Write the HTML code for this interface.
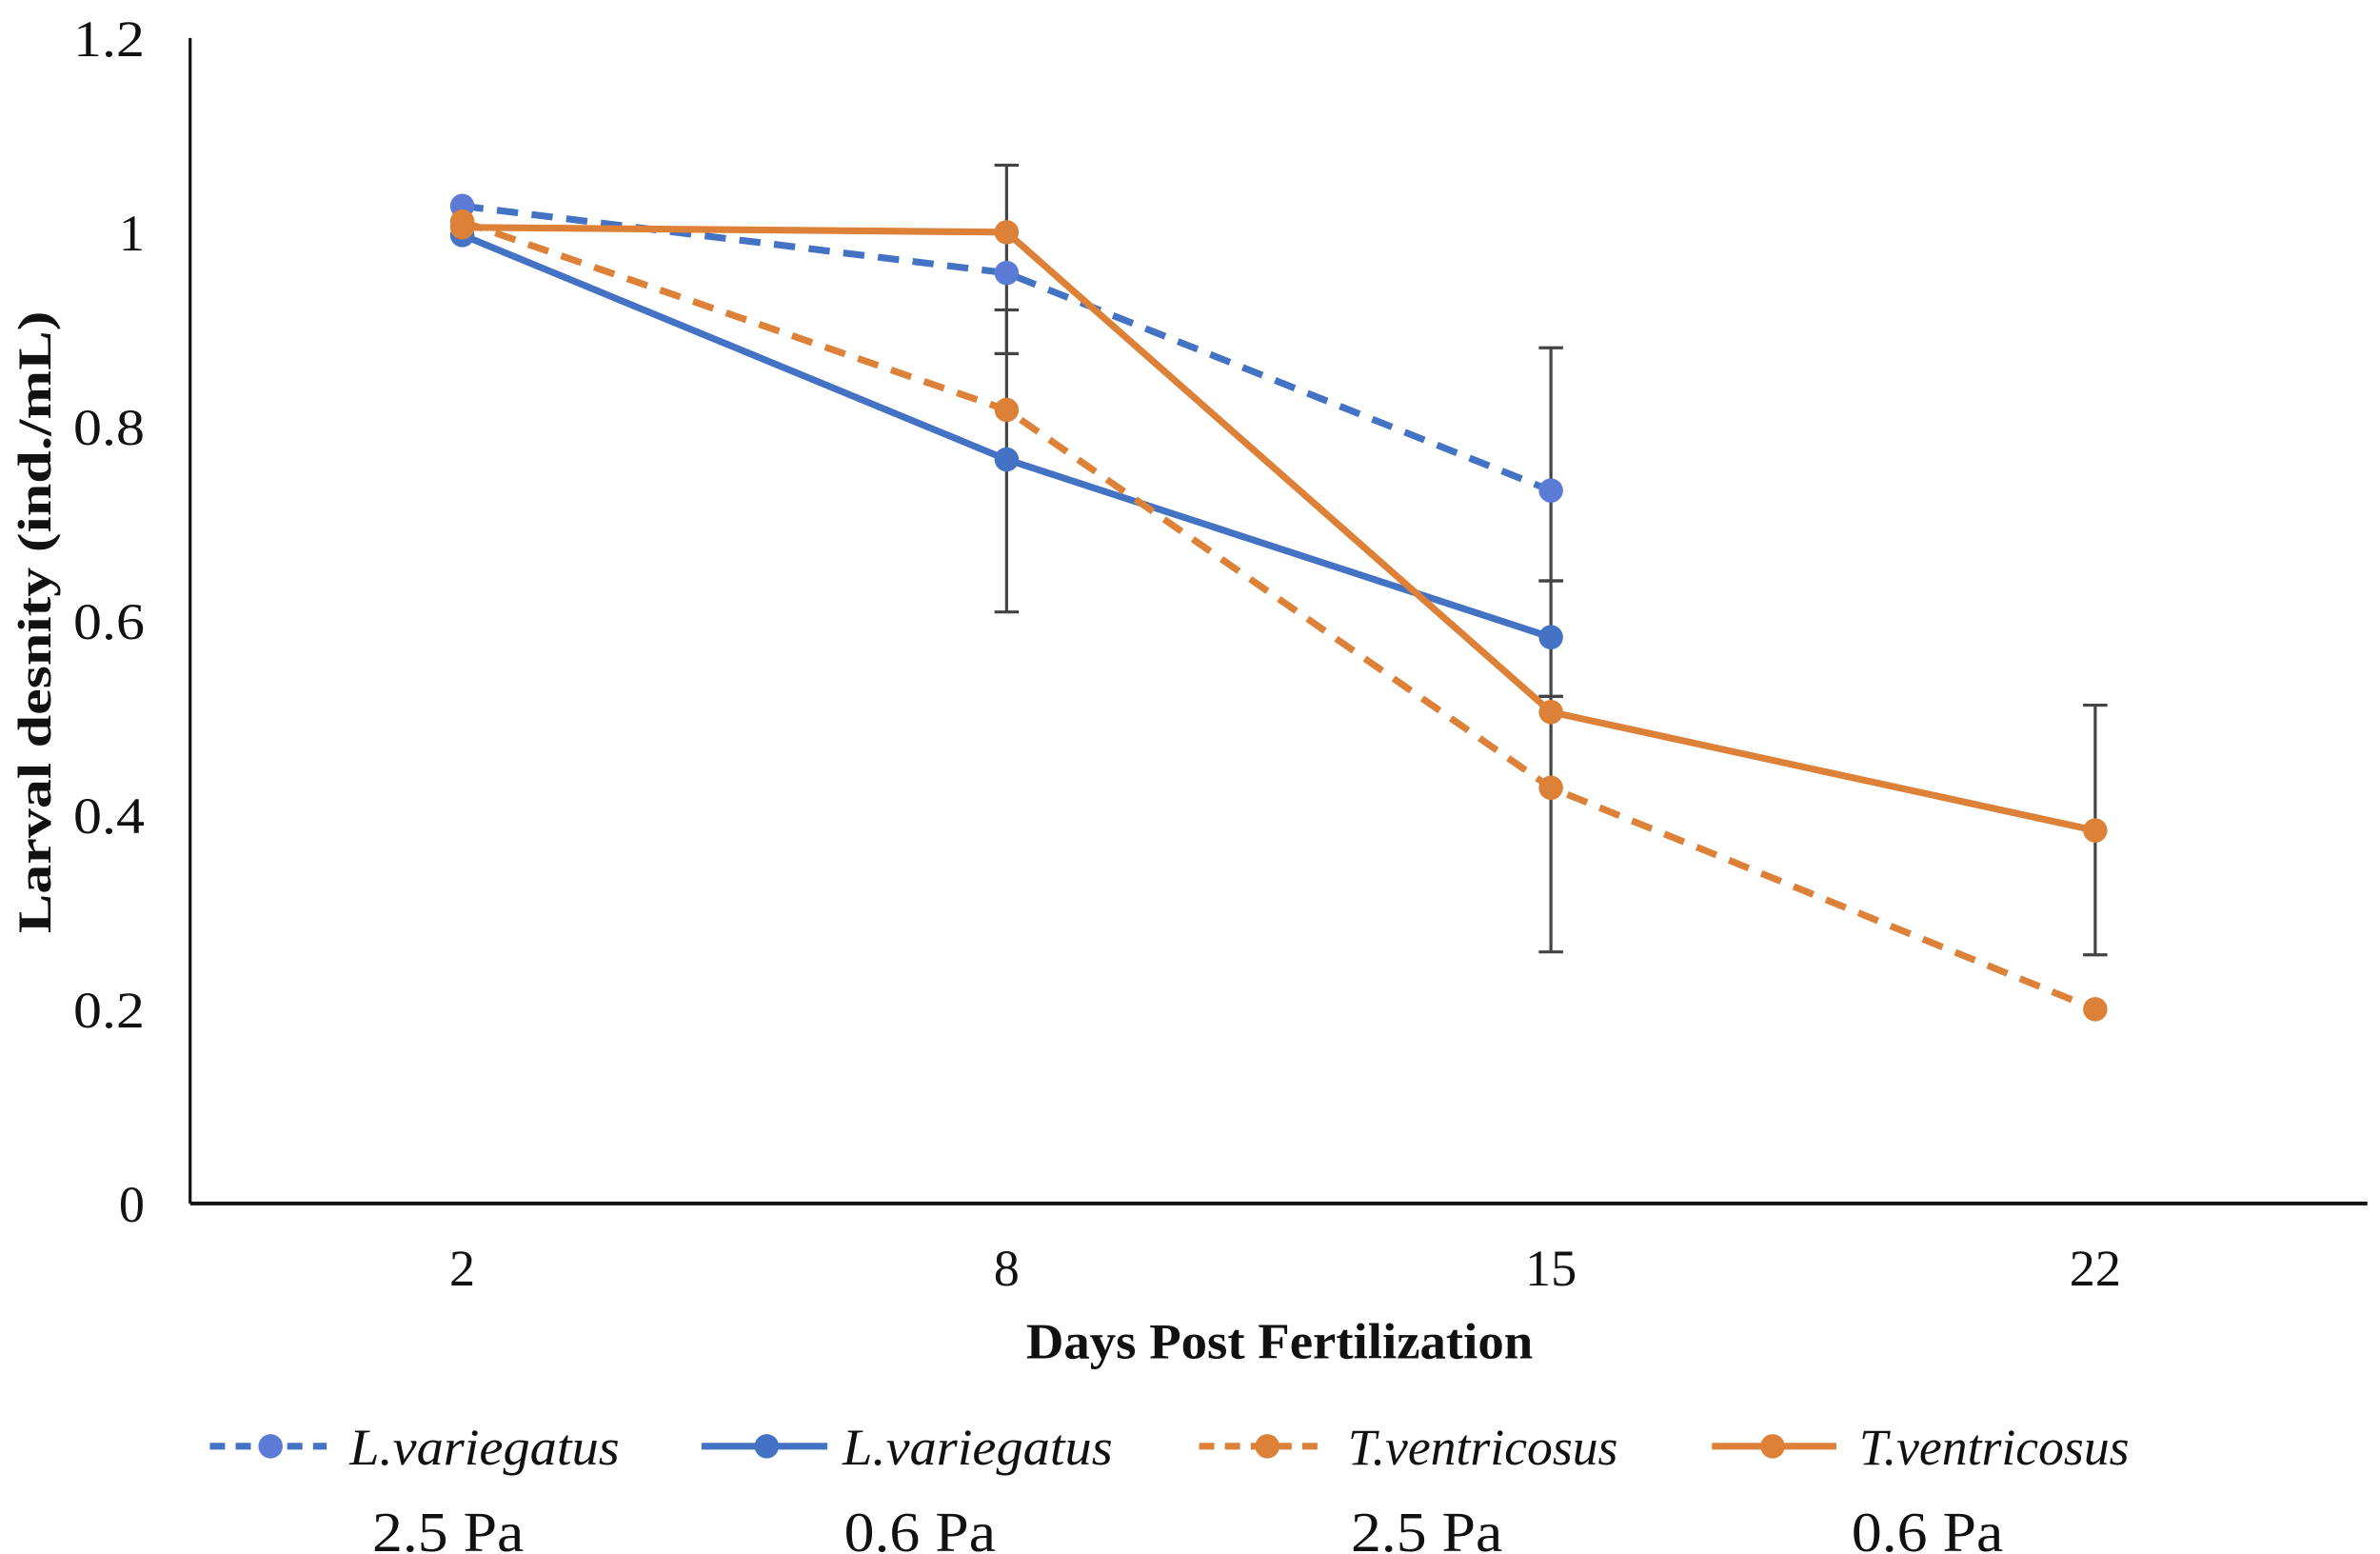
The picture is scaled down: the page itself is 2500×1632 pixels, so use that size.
<!DOCTYPE html>
<html><head><meta charset="utf-8"><style>
html,body{margin:0;padding:0;background:#fff;}
svg{display:block;}
text{font-family:"Liberation Serif",serif;fill:#111;}
</style></head><body>
<svg id="chart" width="2500" height="1632" viewBox="0 0 1568 1024" xmlns="http://www.w3.org/2000/svg">
<g id="plot"></g>
</svg>
<script>
const categories = ["2","8","15","22"];
const yTicks = [0,0.2,0.4,0.6,0.8,1,1.2];
const yTickLabels = ["0","0.2","0.4","0.6","0.8","1","1.2"];
const lv25 = [1.027,0.958,0.734,null];
const lv06 = [0.997,0.766,0.583,null];
const tv25 = [1.011,0.817,0.428,0.200];
const tv06 = [1.005,1.000,0.506,0.384];
const errCats = ["8","8","15","15","15","22"];
const errLow  = [0.609,0.875,0.641,0.522,0.259,0.256];
const errHigh = [0.920,1.069,0.881,0.641,0.522,0.513];

const NS="http://www.w3.org/2000/svg";
const g=document.getElementById('plot');
const X0=125,X1=1560,Y0=793,Y1=25,YMAX=1.2;
const band=(X1-X0)/categories.length;
function xs(c){return X0+band*(categories.indexOf(c)+0.5);}
function ys(v){return Y0-(v/YMAX)*(Y0-Y1);}
function mk(tag,attrs,parent){const e=document.createElementNS(NS,tag);for(const k in attrs)e.setAttribute(k,attrs[k]);(parent||g).appendChild(e);return e;}

let a=mk('line',{x1:X0,y1:Y1,x2:X0,y2:Y0,stroke:'#111','stroke-width':2});


a=mk('line',{x1:X0,y1:Y0,x2:X1,y2:Y0,stroke:'#111','stroke-width':2.5});



yTicks.forEach((v,i)=>{
  const lbl=yTickLabels[i];
  const t=mk('text',{x:95,y:ys(v)+12,'text-anchor':'end','font-size':34});
  if(lbl.length>1){t.setAttribute('textLength',47);t.setAttribute('lengthAdjust','spacingAndGlyphs');}
  t.textContent=lbl;
  
  
});
categories.forEach(c=>{
  const t=mk('text',{x:xs(c),y:847,'text-anchor':'middle','font-size':34});
  t.textContent=c;
  
  
});
let t=mk('text',{x:843,y:895,'text-anchor':'middle','font-size':33,'font-weight':'bold',textLength:334,lengthAdjust:'spacingAndGlyphs'});
t.textContent='Days Post Fertilization';


t=mk('text',{x:0,y:0,'text-anchor':'middle','font-size':31,'font-weight':'bold',transform:'translate(33,410) rotate(-90)',textLength:410,lengthAdjust:'spacingAndGlyphs'});
t.textContent='Larval desnity (ind./mL)';



errCats.forEach((c,i)=>{
  const x=xs(c),eg=mk('g',{stroke:'#444','stroke-width':2});
  
  
  mk('line',{x1:x,y1:ys(errLow[i]),x2:x,y2:ys(errHigh[i])},eg);
  mk('line',{x1:x-8,y1:ys(errLow[i]),x2:x+8,y2:ys(errLow[i])},eg);
  mk('line',{x1:x-8,y1:ys(errHigh[i]),x2:x+8,y2:ys(errHigh[i])},eg);
});

const BLUE='#4472C4',BLUE2='#5B7BD6',ORANGE='#DD8139';
const series=[
  {name:'series-lv-2-5-pa',vals:lv25,color:BLUE,mcol:BLUE2,dash:'14 9'},
  {name:'series-lv-0-6-pa',vals:lv06,color:BLUE,mcol:BLUE,dash:null},
  {name:'series-tv-2-5-pa',vals:tv25,color:ORANGE,mcol:ORANGE,dash:'14 9'},
  {name:'series-tv-0-6-pa',vals:tv06,color:ORANGE,mcol:ORANGE,dash:null}
];
series.forEach(s=>{
  const sg=mk('g',{});
  
  
  const pts=[];
  s.vals.forEach((v,i)=>{if(v!==null)pts.push([xs(categories[i]),ys(v)]);});
  const p=mk('polyline',{points:pts.map(q=>q.join(',')).join(' '),fill:'none',stroke:s.color,'stroke-width':4.5,'stroke-linejoin':'round'},sg);
  if(s.dash)p.setAttribute('stroke-dasharray',s.dash);
  
  
  pts.forEach(q=>{
    const c=mk('circle',{cx:q[0],cy:q[1],r:8,fill:s.mcol},sg);
    
    
  });
});

const legItems=[
  {x1:138,x2:215,m:178,tx:230,col:BLUE,mcol:BLUE2,dash:'10 7',label:'L.variegatus',sub:'2.5 Pa',sx:295},
  {x1:462,x2:545,m:505,tx:555,col:BLUE,mcol:BLUE,dash:null,label:'L.variegatus',sub:'0.6 Pa',sx:606},
  {x1:790,x2:870,m:835,tx:888,col:ORANGE,mcol:ORANGE,dash:'10 7',label:'T.ventricosus',sub:'2.5 Pa',sx:940},
  {x1:1128,x2:1210,m:1168,tx:1225,col:ORANGE,mcol:ORANGE,dash:null,label:'T.ventricosus',sub:'0.6 Pa',sx:1270}
];
legItems.forEach(L=>{
  const lg=mk('g',{});
  
  
  const ln=mk('line',{x1:L.x1,y1:953,x2:L.x2,y2:953,stroke:L.col,'stroke-width':4.5},lg);
  if(L.dash)ln.setAttribute('stroke-dasharray',L.dash);
  mk('circle',{cx:L.m,cy:953,r:8,fill:L.mcol},lg);
  const tt=mk('text',{x:L.tx,y:965,'font-size':34,'font-style':'italic',textLength:178,lengthAdjust:'spacingAndGlyphs'},lg);
  tt.textContent=L.label;
  const st=mk('text',{x:L.sx,y:1022,'text-anchor':'middle','font-size':37,textLength:100,lengthAdjust:'spacingAndGlyphs'},lg);
  st.textContent=L.sub;
});
</script>
</body></html>
